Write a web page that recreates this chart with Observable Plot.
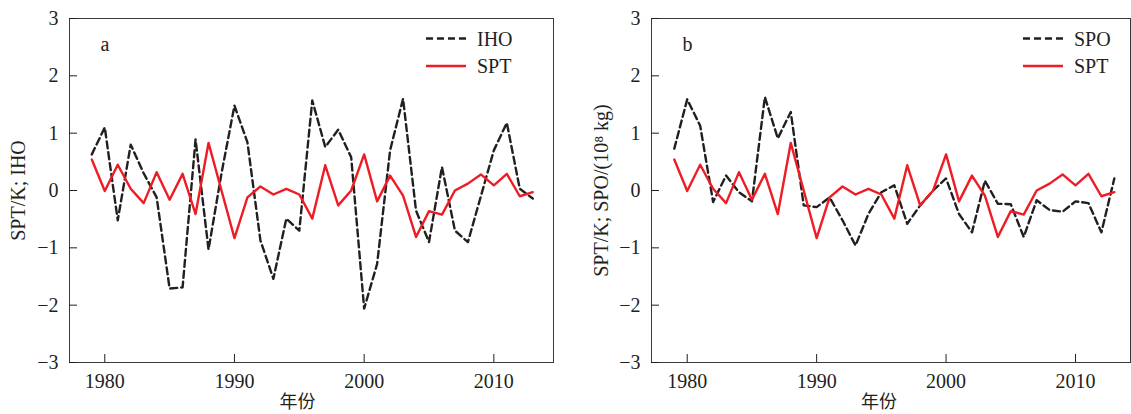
<!DOCTYPE html>
<html>
<head>
<meta charset="utf-8">
<script src="https://cdn.jsdelivr.net/npm/d3@7"></script>
<script src="https://cdn.jsdelivr.net/npm/@observablehq/plot@0.6"></script>
<style>
  html, body { margin: 0; padding: 0; background: #fff; }
  #wrap { position: relative; width: 1131px; height: 414px; overflow: hidden; }
  .panel { position: absolute; top: 0; }
  .overlay { position: absolute; top: 0; left: 0; pointer-events: none; }
</style>
</head>
<body>
<div id="wrap"></div>
<script>
// ---- data ----
const years = [1979,1980,1981,1982,1983,1984,1985,1986,1987,1988,1989,1990,1991,1992,1993,1994,1995,1996,1997,1998,1999,2000,2001,2002,2003,2004,2005,2006,2007,2008,2009,2010,2011,2012,2013];
const iho = [0.63,1.10,-0.52,0.80,0.30,-0.12,-1.71,-1.69,0.89,-1.03,0.30,1.48,0.84,-0.87,-1.54,-0.49,-0.70,1.57,0.76,1.06,0.58,-2.06,-1.28,0.70,1.60,-0.35,-0.90,0.41,-0.70,-0.90,-0.10,0.70,1.18,0.03,-0.14];
const spt = [0.54,-0.01,0.45,0.03,-0.22,0.32,-0.16,0.29,-0.41,0.83,0.00,-0.83,-0.12,0.07,-0.07,0.03,-0.07,-0.49,0.44,-0.26,0.00,0.63,-0.19,0.26,-0.09,-0.81,-0.36,-0.42,0.00,0.12,0.28,0.09,0.29,-0.10,-0.03];
const spo = [0.73,1.59,1.13,-0.20,0.26,-0.03,-0.19,1.63,0.91,1.37,-0.26,-0.29,-0.12,-0.52,-0.96,-0.41,-0.03,0.09,-0.58,-0.26,0.00,0.21,-0.41,-0.73,0.17,-0.23,-0.24,-0.81,-0.17,-0.34,-0.37,-0.19,-0.22,-0.73,0.21];
const xTicks = [1980, 1990, 2000, 2010];
const yTicks = [-3, -2, -1, 0, 1, 2, 3];
const xLabel = "年份";
const yLabelA = "SPT/K; IHO";
const yLabelB = "SPT/K; SPO/(10⁸ kg)";
const seriesNamesA = ["IHO", "SPT"];
const seriesNamesB = ["SPO", "SPT"];

const BLACK = "#231f20";
const RED = "#ee1c25";
const SERIF = "'Liberation Serif', 'Times New Roman', serif";

function toRows(vals) { return years.map((y, i) => ({year: y, value: vals[i]})); }
const fmtY = d => (d < 0 ? "\u2212" + Math.abs(d) : String(d));

function panel({dashed, yLabel, letter, xDomain, width, marginLeft, marginRight, yLabelDx, xLabelDx}) {
  const H = 414, mt = 18, mb = 52;
  const innerW = width - marginLeft - marginRight;
  const innerH = H - mt - mb;
  return Plot.plot({
    width, height: H, marginTop: mt, marginBottom: mb, marginLeft, marginRight,
    x: {domain: xDomain},
    y: {domain: [-3, 3]},
    style: {fontFamily: SERIF, fontSize: "20px", color: BLACK, background: "transparent", overflow: "visible"},
    marks: [
      Plot.frame({stroke: "#3a3a3a", strokeWidth: 1}),
      Plot.tickX(xTicks, {x: d => d, stroke: BLACK, strokeWidth: 1, insetTop: innerH - 8}),
      Plot.tickY(yTicks, {y: d => d, stroke: BLACK, strokeWidth: 1, insetRight: innerW - 8}),
      Plot.axisX(xTicks, {tickSize: 0, tickPadding: 11, tickFormat: d => String(d), label: null, fontSize: 20}),
      Plot.axisY(yTicks, {tickSize: 0, tickPadding: 11, tickFormat: fmtY, label: null, fontSize: 20}),
      Plot.lineY(toRows(dashed), {x: "year", y: "value", stroke: BLACK, strokeWidth: 2.4, strokeDasharray: "7,4"}),
      Plot.lineY(toRows(spt), {x: "year", y: "value", stroke: RED, strokeWidth: 2.4}),
      Plot.text([yLabel], {frameAnchor: "left", rotate: -90, dx: yLabelDx, textAnchor: "middle", lineAnchor: "middle", fontSize: 20, fill: BLACK}),
      Plot.text([xLabel], {frameAnchor: "bottom", dy: 40, dx: xLabelDx, textAnchor: "middle", lineAnchor: "middle", fontSize: 18, fontFamily: "'Noto Sans CJK SC', sans-serif", fill: BLACK}),
      Plot.text([letter], {frameAnchor: "top-left", dx: 31, dy: 32, textAnchor: "start", lineAnchor: "bottom", fontSize: 20, fill: BLACK})
    ]
  });
}

const wrap = document.getElementById("wrap");

const a = panel({dashed: iho, yLabel: yLabelA, letter: "a", xDomain: [1977.28, 2014.6], width: 565, marginLeft: 69, marginRight: 12, yLabelDx: -51, xLabelDx: -14});
a.classList.add("panel"); a.style.left = "0px";
wrap.appendChild(a);

const b = panel({dashed: spo, yLabel: yLabelB, letter: "b", xDomain: [1977.24, 2014.25], width: 566, marginLeft: 86, marginRight: 1, yLabelDx: -50, xLabelDx: -12});
b.classList.add("panel"); b.style.left = "565px";
wrap.appendChild(b);

// legends (overlay)
const ov = d3.select(wrap).append("svg").attr("class", "overlay").attr("width", 1131).attr("height", 414);
function legend(x0, names) {
  const rows = [{name: names[0], dash: "7,4", color: BLACK, y: 38.5}, {name: names[1], dash: null, color: RED, y: 66}];
  const g = ov.append("g");
  rows.forEach(r => {
    g.append("line").attr("x1", x0).attr("x2", x0 + 40).attr("y1", r.y).attr("y2", r.y)
      .attr("stroke", r.color).attr("stroke-width", 2.4).attr("stroke-dasharray", r.dash);
    g.append("text").attr("x", x0 + 51).attr("y", r.y).attr("dy", "0.35em")
      .attr("font-family", SERIF).attr("font-size", 20).attr("fill", BLACK).text(r.name);
  });
}
legend(426, seriesNamesA);
legend(1023, seriesNamesB);
</script>
</body>
</html>
